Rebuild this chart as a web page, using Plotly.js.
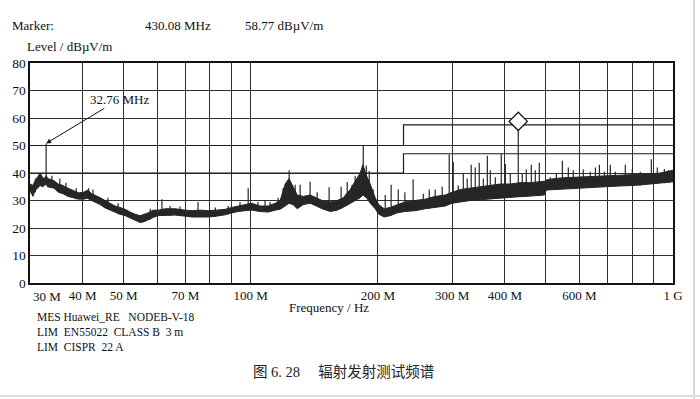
<!DOCTYPE html>
<html>
<head>
<meta charset="utf-8">
<script src="https://cdn.plot.ly/plotly-3.0.1.min.js"></script>
<style>html,body{margin:0;padding:0;background:#fff;}#chart{width:700px;height:399px;}</style>
</head>
<body>
<div id="chart"></div>
<script>
// ---- data (frequency in MHz, level in dBuV/m) ----
const bandFreq = [30.0,30.5,30.8,31.3,31.7,32.1,32.4,32.8,33.0,33.5,34.2,35.0,35.9,36.9,38.0,39.1,40.2,41.1,42.0,42.8,44.0,45.2,46.4,47.7,49.0,50.4,51.8,53.2,54.7,55.9,57.1,58.7,60.4,62.7,66.2,70.0,72.6,75.9,79.3,82.8,87.0,90.3,93.3,97.0,100.4,105.2,109.9,114.3,117.4,120.6,123.2,126.0,128.8,133.1,138.2,142.9,147.6,154.2,160.2,165.5,172.0,176.7,181.6,184.3,188.0,191.8,197.1,201.0,207.0,213.9,222.0,231.7,245.2,258.9,273.4,288.8,299.7,313.4,331,349.6,369,390,411.7,434.8,459,485,496,501,525,555,596,637,691,750,814,883,933,1000];
const bandLow  = [33.5,31.5,33.5,34.5,35.5,35,35.5,36,35,34.8,34.5,33,32.5,31.5,31,30.5,30.5,30.8,30,29.5,28.5,27.3,26.5,25.8,25,24.5,23.7,23,22,22.3,23,23.8,24.5,24.5,24.7,24.3,24,24,24,24.3,24.8,25.5,26,26.3,26.5,26,25.8,26.5,26.8,28,29,28.5,27,28.5,29,28,27,26,26.5,27.5,29,30,31,32,31,29,27,25,24,24.5,25.5,26,26.3,27,27.5,28,29,29.5,30,30.3,30.6,31,31.2,31.4,31.6,31.8,32,33.8,34,34.3,34.5,34.8,35,35.3,35.5,36,36.3,36.8];
const bandHigh = [36,35.5,37,38.5,40,38.5,38,39,38,37.7,37.2,36,35.5,34.5,33.5,32.8,33,33.8,32.5,32,31,30,29,28,27.5,26.8,25.8,25,24.5,25,25.5,26.5,26.5,27,27,26.5,26.3,26.5,26.3,26.5,26.8,27.5,28,28.7,29,28,28,29,30,36,38,35,32,31.5,32,31,30,29.5,30,31,34,37,40,43,39,36,31,28.5,27,27.5,28.5,29.5,30,30.5,31.5,32,33,34,34.5,35,35.5,36,36,36.5,36.5,37,37,37.5,38,38.3,38.5,38.7,38.8,39,39.3,39.7,40,41];

const spikeFreq = [30.9,32.76,33.8,35.3,36.5,38.6,41.3,42.3,45.9,48.5,57.8,61.6,64.4,68.0,75.0,82.4,88.4,94.3,98.6,104,108.1,111.1,116.1,119.3,123.3,127.4,130.9,138.2,143.6,153.3,163.7,169.2,173.8,176.7,184.7,187.7,190.8,195,208.2,215,223.5,231.7,242.4,256.2,264.7,273.4,284,295.1,301.7,310,318.7,325.6,332.7,340.1,347.6,355.4,363.3,369.2,379.5,392,400.8,411.7,430.08,439.5,449.3,461.8,471.9,482.4,512,529.3,547,565,580.5,613,636.9,655,669.4,688,710.3,730,771,801,836.6,888.6,918,954,975];
const spikeBase = [33,36,35,33,32,30.5,30.5,30,27,25,23,25,24.5,24.5,24.5,24,25,26,27,26,26.5,26,27,28,29,28,28,29,28,26.5,27,28.5,29.5,30,32,31,30,28,24.5,24.5,25.5,26,26.3,27,27,27.5,28,29,29,29.5,29.5,30,30,30,30,30.3,30.5,30.5,30.8,31,31,31.2,31.4,31.4,31.5,31.6,31.7,31.8,34,34.2,34.3,34.4,34.5,34.6,34.8,34.9,34.9,35,35,35.2,35.3,35.4,35.5,36,36.1,36.3,36.5];
const spikeTop  = [38,50.77,39,38,36.5,34.5,34.5,34,31,29,27,30.5,28,27.8,29.5,27.5,28,29.5,34.5,29.5,30,29.5,31,34.5,41,35.7,35.7,36.8,33,34.8,35,36.7,35.7,39,50,42.7,40.7,34,32,35.7,34,33,37.7,32.5,34,34,35,46.7,44,35.5,39.7,38,43,42,43.7,38,46.3,41,38.5,47,43.3,40,58.77,39.7,41.3,43,41,43.7,38.5,40,44.5,42,41,41.3,40.5,42,43,40.5,43,40.5,43,41.5,40.5,45,42,41.5,41];

const limitFreq = [30, 230, 230, 1000];
const limitClassB = [40, 40, 47, 47];
const limitClassA = [50, 50, 57.5, 57.5];

const markerFreq = [430.08];
const markerLevel = [58.77];

const xTickVals = [40,50,60,70,80,90,100,200,300,400,500,600,700,800,900,1000];
const xTickText = ['40 M','50 M','','70 M','','','100 M','200 M','300 M','400 M','','600 M','','','','1 G'];
const yTickVals = [0,10,20,30,40,50,60,70,80];
const infoLines = ['MES Huawei_RE   NODEB-V-18', 'LIM  EN55022  CLASS B  3 m', 'LIM  CISPR  22 A'];

// ---- build spike segments ----
const sx = [], sy = [];
for (let i = 0; i < spikeFreq.length; i++) {
  sx.push(spikeFreq[i], spikeFreq[i], null);
  sy.push(spikeBase[i], spikeTop[i], null);
}

const ink = '#262626';
const serif = 'Liberation Serif';

const traces = [
  {x: limitFreq, y: limitClassB, mode: 'lines', line: {color: '#1a1a1a', width: 1.2}, hoverinfo: 'skip'},
  {x: limitFreq, y: limitClassA, mode: 'lines', line: {color: '#1a1a1a', width: 1.2}, hoverinfo: 'skip'},
  {x: bandFreq, y: bandLow, mode: 'lines', line: {color: ink, width: 1}, hoverinfo: 'skip'},
  {x: bandFreq, y: bandHigh, mode: 'lines', fill: 'tonexty', fillcolor: ink, line: {color: ink, width: 1}, hoverinfo: 'skip'},
  {x: sx, y: sy, mode: 'lines', line: {color: ink, width: 1.2}, connectgaps: false, hoverinfo: 'skip'},
  {x: markerFreq, y: markerLevel, mode: 'markers', marker: {symbol: 'diamond', size: 14, color: '#fff', line: {color: '#111', width: 1.3}}, hoverinfo: 'skip'}
];

const px = v => (v - 30) / 643;      // horizontal pixel -> paper
const py = v => (283 - v) / 220;     // vertical pixel -> paper
const txt = (text, x, y, size, anchor) => ({text, x: px(x), y: py(y), xref: 'paper', yref: 'paper', showarrow: false, xanchor: anchor || 'left', yanchor: 'middle', align: 'left', font: {family: serif, size: size, color: '#111'}});

const layout = {
  width: 700, height: 399,
  margin: {l: 30, r: 27, t: 63, b: 116},
  paper_bgcolor: '#fff', plot_bgcolor: '#fff',
  showlegend: false,
  font: {family: serif},
  xaxis: {
    type: 'log', range: [Math.log10(30), 3],
    tickvals: xTickVals, ticktext: xTickText,
    showgrid: true, gridcolor: '#2e2e2e', gridwidth: 1,
    showline: true, linecolor: '#111', linewidth: 1.6, mirror: true,
    ticks: '', zeroline: false,
    tickfont: {family: serif, size: 13, color: '#111'}
  },
  yaxis: {
    range: [0, 80], tickvals: yTickVals,
    showgrid: true, gridcolor: '#2e2e2e', gridwidth: 1,
    showline: true, linecolor: '#111', linewidth: 1.6, mirror: true,
    ticks: '', zeroline: false,
    tickfont: {family: serif, size: 13.5, color: '#111'}
  },
  annotations: [
    txt('Marker:', 10, 25, 13),
    txt('430.08 MHz', 143, 25, 13),
    txt('58.77 dBµV/m', 243, 25, 13),
    txt('Level / dBµV/m', 25, 47, 13),
    {text: '30 M', x: Math.log10(30), y: py(296), xref: 'x', yref: 'paper', showarrow: false, xanchor: 'left', yanchor: 'middle', xshift: 1, font: {family: serif, size: 13, color: '#111'}},
    txt('Frequency / Hz', 329, 307, 13, 'center'),
    txt(infoLines.join('<br>'), 35, 332, 11.5),
    {text: '图 6. 28　 辐射发射测试频谱', x: px(343), y: py(372), xref: 'paper', yref: 'paper', showarrow: false, xanchor: 'center', yanchor: 'middle', font: {family: 'Liberation Serif, Noto Sans CJK SC', size: 14.5, color: '#222'}},
    {text: '32.76 MHz', x: Math.log10(32.76), y: 50.77, xref: 'x', yref: 'y', showarrow: true, arrowhead: 2, arrowsize: 1, arrowwidth: 1, arrowcolor: '#111', ax: 73, ay: -44, font: {family: serif, size: 13, color: '#111'}}
  ],
  shapes: [
    {type: 'line', xref: 'paper', yref: 'paper', x0: px(694), x1: px(694), y0: py(0), y1: py(399), line: {color: '#d9d9d9', width: 2}},
    {type: 'line', xref: 'paper', yref: 'paper', x0: px(0), x1: px(700), y0: py(396), y1: py(396), line: {color: '#dddddd', width: 2}}
  ]
};

Plotly.newPlot('chart', traces, layout, {staticPlot: true, displayModeBar: false});
</script>
</body>
</html>
